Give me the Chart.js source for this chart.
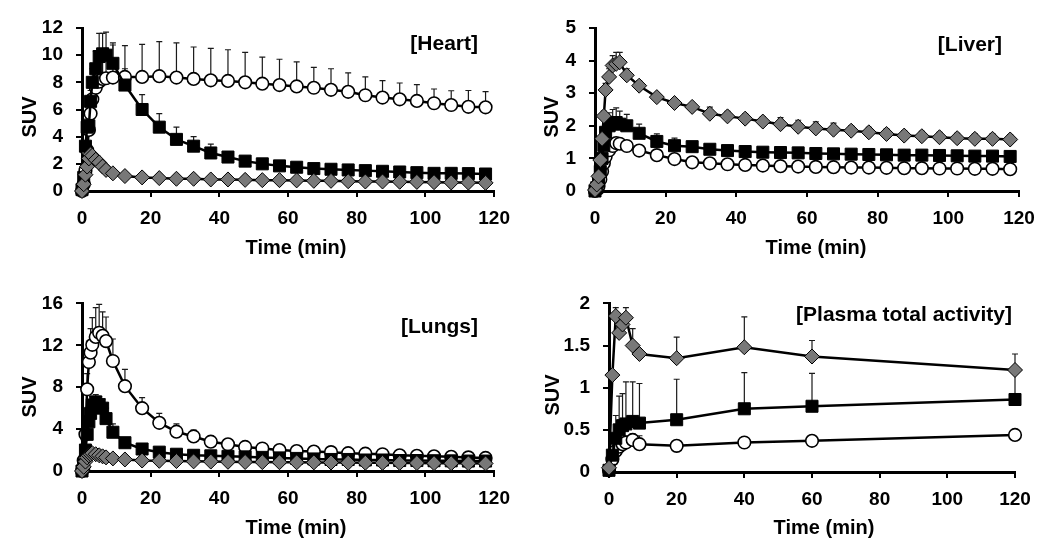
<!DOCTYPE html>
<html><head><meta charset="utf-8">
<script src="https://cdn.jsdelivr.net/npm/chart.js@4.4.1/dist/chart.umd.min.js"></script>
<style>
html,body{margin:0;padding:0;background:#fff;width:1050px;height:558px;overflow:hidden}
.p{position:absolute}
canvas{display:block}
</style></head><body>
<div class="p" style="left:0;top:0;width:520px;height:279px"><canvas id="heart" width="520" height="279"></canvas></div>
<div class="p" style="left:520px;top:0;width:530px;height:279px"><canvas id="liver" width="530" height="279"></canvas></div>
<div class="p" style="left:0;top:279px;width:520px;height:279px"><canvas id="lungs" width="520" height="279"></canvas></div>
<div class="p" style="left:520px;top:279px;width:530px;height:279px"><canvas id="plasma" width="530" height="279"></canvas></div>
<script>
// ---------- DATA ----------
const xTitle = 'Time (min)';
const yTitle = 'SUV';
const panelTitles = ['[Heart]', '[Liver]', '[Lungs]', '[Plasma total activity]'];

const tissueTimes = [0, 0.5, 1, 1.5, 2, 2.5, 3, 4, 5, 6, 7, 9, 12.5, 17.5, 22.5, 27.5, 32.5, 37.5, 42.5, 47.5, 52.5, 57.5, 62.5, 67.5, 72.5, 77.5, 82.5, 87.5, 92.5, 97.5, 102.5, 107.5, 112.5, 117.5];

const heartSquare = [0.1, 1.0, 3.3, 4.7, 4.8, 6.6, 8.0, 9.0, 9.9, 10.1, 10.0, 9.4, 7.8, 6.0, 4.7, 3.8, 3.3, 2.8, 2.5, 2.2, 2.0, 1.85, 1.75, 1.65, 1.6, 1.55, 1.5, 1.45, 1.4, 1.35, 1.3, 1.3, 1.28, 1.25];
const heartSquareErr = [0, 0.2, 0.4, 0.6, 0.7, 0.8, 1.0, 1.3, 1.7, 1.5, 1.7, 1.5, 1.2, 1.1, 1.0, 0.9, 0.7, 0.65, 0.4, 0.3, 0.25, 0.25, 0.2, 0.2, 0.2, 0.2, 0.2, 0.2, 0.2, 0.2, 0.2, 0.2, 0.2, 0.2];
const heartCircle = [0, 0.5, 1.5, 3.0, 4.5, 5.7, 6.75, 7.6, 8.05, 8.25, 8.3, 8.35, 8.4, 8.4, 8.45, 8.35, 8.25, 8.15, 8.1, 8.0, 7.9, 7.8, 7.7, 7.6, 7.45, 7.3, 7.05, 6.88, 6.75, 6.63, 6.46, 6.33, 6.2, 6.16];
const heartCircleErr = [0, 0.2, 0.4, 0.6, 0.8, 1.0, 1.2, 1.3, 1.5, 2.0, 2.2, 2.4, 2.3, 2.4, 2.55, 2.55, 2.35, 2.35, 2.3, 2.2, 1.96, 1.9, 1.8, 1.5, 1.55, 1.4, 1.35, 1.25, 1.2, 1.2, 1.05, 1.05, 1.2, 1.15];
const heartDiamond = [0, 0.5, 1.2, 1.8, 2.4, 2.7, 2.6, 2.3, 2.1, 1.8, 1.55, 1.3, 1.1, 1.0, 0.95, 0.9, 0.9, 0.85, 0.85, 0.82, 0.8, 0.8, 0.78, 0.75, 0.75, 0.72, 0.7, 0.7, 0.68, 0.67, 0.65, 0.63, 0.62, 0.6];
const heartDiamondErr = [0, 0, 0.05, 0.1, 0.1, 0.15, 0.15, 0.15, 0.1, 0.1, 0.1, 0.1, 0.05, 0.05, 0.05, 0.05, 0.05, 0.05, 0.05, 0.05, 0.05, 0.05, 0.05, 0.05, 0.05, 0.05, 0.05, 0.05, 0.05, 0.05, 0.05, 0.05, 0.05, 0.05];

const liverSquare = [0, 0.1, 0.3, 0.6, 1.0, 1.4, 1.8, 2.0, 2.1, 2.1, 2.05, 2.0, 1.77, 1.52, 1.39, 1.36, 1.28, 1.24, 1.21, 1.19, 1.18, 1.17, 1.15, 1.14, 1.13, 1.12, 1.11, 1.1, 1.1, 1.09, 1.08, 1.07, 1.07, 1.06];
const liverSquareErr = [0, 0, 0.1, 0.1, 0.2, 0.2, 0.3, 0.4, 0.4, 0.45, 0.4, 0.35, 0.28, 0.23, 0.23, 0.1, 0.1, 0.1, 0.08, 0.08, 0.08, 0.08, 0.08, 0.08, 0.08, 0.08, 0.08, 0.08, 0.08, 0.08, 0.08, 0.08, 0.08, 0.08];
const liverCircle = [0, 0.05, 0.15, 0.35, 0.6, 0.85, 1.05, 1.25, 1.38, 1.47, 1.45, 1.38, 1.24, 1.1, 0.98, 0.88, 0.85, 0.82, 0.8, 0.78, 0.76, 0.75, 0.74, 0.73, 0.72, 0.72, 0.71, 0.7, 0.7, 0.69, 0.69, 0.68, 0.68, 0.67];
const liverCircleErr = [0, 0, 0.05, 0.05, 0.1, 0.1, 0.15, 0.15, 0.15, 0.15, 0.15, 0.1, 0.05, 0.05, 0.05, 0.05, 0.05, 0.05, 0.05, 0.05, 0.05, 0.05, 0.05, 0.05, 0.05, 0.05, 0.05, 0.05, 0.05, 0.05, 0.05, 0.05, 0.05, 0.05];
const liverDiamond = [0.03, 0.2, 0.45, 0.95, 1.6, 2.3, 3.1, 3.5, 3.85, 3.9, 3.95, 3.55, 3.23, 2.88, 2.7, 2.58, 2.37, 2.29, 2.22, 2.13, 2.05, 1.97, 1.92, 1.88, 1.85, 1.8, 1.75, 1.7, 1.68, 1.65, 1.62, 1.6, 1.6, 1.58];
const liverDiamondErr = [0, 0, 0.05, 0.1, 0.1, 0.15, 0.2, 0.25, 0.3, 0.35, 0.3, 0.2, 0.15, 0.1, 0.1, 0.1, 0.2, 0.15, 0.15, 0.15, 0.2, 0.2, 0.2, 0.2, 0.15, 0.15, 0.15, 0.15, 0.15, 0.15, 0.15, 0.15, 0.15, 0.15];

const lungsSquare = [0, 0.6, 2.0, 3.5, 4.7, 5.5, 6.3, 6.6, 6.3, 6.0, 5.0, 3.7, 2.7, 2.1, 1.8, 1.6, 1.5, 1.45, 1.4, 1.35, 1.3, 1.25, 1.2, 1.15, 1.1, 1.1, 1.05, 1.05, 1.0, 1.0, 0.98, 0.97, 0.95, 0.95];
const lungsSquareErr = [0, 0.1, 0.3, 0.5, 0.6, 0.7, 0.8, 0.7, 0.8, 0.9, 1.0, 0.8, 0.5, 0.3, 0.2, 0.15, 0.1, 0.1, 0.1, 0.1, 0.1, 0.1, 0.1, 0.1, 0.1, 0.1, 0.1, 0.1, 0.1, 0.1, 0.1, 0.1, 0.1, 0.1];
const lungsCircle = [0, 1.0, 3.5, 7.8, 10.4, 11.3, 12.05, 12.8, 13.2, 12.9, 12.4, 10.5, 8.1, 6.0, 4.6, 3.75, 3.3, 2.8, 2.55, 2.3, 2.15, 2.0, 1.9, 1.85, 1.8, 1.7, 1.65, 1.6, 1.5, 1.45, 1.4, 1.35, 1.3, 1.25];
const lungsCircleErr = [0, 0.3, 0.8, 1.5, 2.0, 2.3, 2.6, 2.8, 2.7, 2.3, 2.3, 2.1, 1.6, 1.0, 0.9, 0.75, 0.6, 0.5, 0.4, 0.3, 0.3, 0.3, 0.25, 0.25, 0.25, 0.2, 0.2, 0.2, 0.2, 0.2, 0.2, 0.2, 0.2, 0.2];
const lungsDiamond = [0, 0.4, 0.9, 1.3, 1.5, 1.6, 1.7, 1.6, 1.5, 1.4, 1.3, 1.2, 1.1, 1.0, 0.97, 0.95, 0.92, 0.9, 0.88, 0.86, 0.85, 0.84, 0.83, 0.82, 0.81, 0.8, 0.79, 0.78, 0.77, 0.76, 0.75, 0.74, 0.73, 0.72];
const lungsDiamondErr = [0, 0.05, 0.1, 0.15, 0.2, 0.2, 0.2, 0.2, 0.15, 0.15, 0.1, 0.1, 0.1, 0.05, 0.05, 0.05, 0.05, 0.05, 0.05, 0.05, 0.05, 0.05, 0.05, 0.05, 0.05, 0.05, 0.05, 0.05, 0.05, 0.05, 0.05, 0.05, 0.05, 0.05];

const plasmaTimes = [0, 1, 2, 3, 4, 5, 7, 9, 20, 40, 60, 120];
const plasmaDiamond = [0.05, 1.15, 1.85, 1.65, 1.75, 1.83, 1.5, 1.4, 1.35, 1.48, 1.37, 1.21];
const plasmaDiamondErr = [0, 0, 0.1, 0, 0, 0.12, 0.2, 0, 0.25, 0.36, 0.19, 0.19];
const plasmaSquare = [0.02, 0.2, 0.4, 0.5, 0.55, 0.57, 0.6, 0.58, 0.62, 0.75, 0.78, 0.86];
const plasmaSquareErr = [0, 0.1, 0.27, 0.4, 0.38, 0.5, 0.47, 0.47, 0.48, 0.43, 0.39, 0.34];
const plasmaCircle = [0.02, 0.15, 0.25, 0.3, 0.33, 0.35, 0.38, 0.33, 0.31, 0.35, 0.37, 0.44];
const plasmaCircleErr = [0, 0, 0.05, 0.05, 0.05, 0.08, 0.07, 0.1, 0, 0, 0, 0.03];

const xTicks = [0, 20, 40, 60, 80, 100, 120];
const heartYTicks = [0, 2, 4, 6, 8, 10, 12];
const liverYTicks = [0, 1, 2, 3, 4, 5];
const lungsYTicks = [0, 4, 8, 12, 16];
const plasmaYTicks = [0, 0.5, 1, 1.5, 2];

// ---------- RENDERING ----------
const FONT = '"Liberation Sans", Arial, Helvetica, sans-serif';

const errorBars = {
  id: 'errorBars',
  beforeDatasetsDraw(chart) {
    const {ctx} = chart; const xs = chart.scales.x, ys = chart.scales.y;
    ctx.save();
    ctx.strokeStyle = '#1a1a1a'; ctx.lineWidth = 1.2;
    chart.data.datasets.forEach(ds => {
      if (!ds.errors) return;
      ds.data.forEach((p, i) => {
        const e = ds.errors[i]; if (!e) return;
        const px = xs.getPixelForValue(p.x), py = ys.getPixelForValue(p.y), pt = ys.getPixelForValue(p.y + e);
        ctx.beginPath();
        ctx.moveTo(px, py); ctx.lineTo(px, pt);
        ctx.moveTo(px - 3, pt); ctx.lineTo(px + 3, pt);
        ctx.stroke();
      });
    });
    ctx.restore();
  }
};

const panelText = {
  id: 'panelText',
  afterDraw(chart, args, o) {
    const ctx = chart.ctx;
    ctx.save();
    ctx.fillStyle = '#000';
    ctx.textBaseline = 'middle';
    ctx.font = 'bold 21px ' + FONT;
    ctx.textAlign = 'right';
    ctx.fillText(o.title, o.titleX, o.titleY);
    ctx.font = 'bold 20px ' + FONT;
    ctx.textAlign = 'center';
    ctx.fillText(xTitle, o.timeX, o.timeY);
    ctx.translate(o.suvX, o.suvY);
    ctx.rotate(-Math.PI / 2);
    ctx.fillText(yTitle, 0, 0);
    ctx.restore();
  }
};

function pts(t, v) { return t.map((x, i) => ({x: x, y: v[i]})); }

function makePanel(id, cfg) {
  const common = {showLine: true, borderColor: '#000', borderWidth: 2.5, clip: false, pointBorderColor: '#000'};
  const datasets = [
    Object.assign({}, common, {data: pts(cfg.t, cfg.diamond), errors: cfg.diamondErr, pointStyle: 'rectRot', pointRadius: 7.5, pointBackgroundColor: '#787878', pointBorderWidth: 1}),
    Object.assign({}, common, {data: pts(cfg.t, cfg.square), errors: cfg.squareErr, pointStyle: 'rect', pointRadius: 8.5, pointBackgroundColor: '#000', pointBorderWidth: 1}),
    Object.assign({}, common, {data: pts(cfg.t, cfg.circle), errors: cfg.circleErr, pointStyle: 'circle', pointRadius: 6.3, pointBackgroundColor: '#fff', pointBorderWidth: 1.6})
  ];
  const tickFont = {family: FONT, size: 19, weight: 'bold'};
  new Chart(document.getElementById(id), {
    type: 'line',
    data: {datasets},
    plugins: [errorBars, panelText],
    options: {
      responsive: false, animation: false, devicePixelRatio: 1,
      layout: {padding: {left: 0, right: cfg.padR, top: cfg.padT, bottom: 0}},
      elements: {line: {tension: 0}},
      plugins: {
        legend: {display: false}, tooltip: {enabled: false},
        panelText: cfg.text
      },
      scales: {
        x: {
          type: 'linear', min: 0, max: 120,
          afterBuildTicks: s => { s.ticks = xTicks.map(v => ({value: v})); },
          afterFit: s => { s.height = cfg.xH; },
          ticks: {font: tickFont, color: '#000', padding: 10, maxRotation: 0, autoSkip: false, callback: v => String(v)},
          grid: {display: true, drawOnChartArea: false, drawTicks: true, tickLength: 6, color: '#000', lineWidth: 2},
          border: {display: true, color: '#000', width: 3}
        },
        y: {
          type: 'linear', min: cfg.yTicks[0], max: cfg.yTicks[cfg.yTicks.length - 1],
          afterBuildTicks: s => { s.ticks = cfg.yTicks.map(v => ({value: v})); },
          afterFit: s => { s.width = cfg.yW; },
          ticks: {font: tickFont, color: '#000', padding: 13, autoSkip: false, callback: v => String(v)},
          grid: {display: true, drawOnChartArea: false, drawTicks: true, tickLength: 6, color: '#000', lineWidth: 2},
          border: {display: true, color: '#000', width: 3}
        }
      }
    }
  });
}

makePanel('heart', {
  t: tissueTimes, square: heartSquare, squareErr: heartSquareErr, circle: heartCircle, circleErr: heartCircleErr, diamond: heartDiamond, diamondErr: heartDiamondErr,
  yTicks: heartYTicks, yW: 82, xH: 88, padR: 24, padT: 28,
  text: {title: panelTitles[0], titleX: 478, titleY: 44, timeX: 296, timeY: 248, suvX: 30, suvY: 117}
});
makePanel('liver', {
  t: tissueTimes, square: liverSquare, squareErr: liverSquareErr, circle: liverCircle, circleErr: liverCircleErr, diamond: liverDiamond, diamondErr: liverDiamondErr,
  yTicks: liverYTicks, yW: 75, xH: 88, padR: 31, padT: 28,
  text: {title: panelTitles[1], titleX: 482, titleY: 45, timeX: 296, timeY: 248, suvX: 32, suvY: 117}
});
makePanel('lungs', {
  t: tissueTimes, square: lungsSquare, squareErr: lungsSquareErr, circle: lungsCircle, circleErr: lungsCircleErr, diamond: lungsDiamond, diamondErr: lungsDiamondErr,
  yTicks: lungsYTicks, yW: 82, xH: 87, padR: 24, padT: 24,
  text: {title: panelTitles[2], titleX: 478, titleY: 48, timeX: 296, timeY: 249, suvX: 30, suvY: 118}
});
makePanel('plasma', {
  t: plasmaTimes, square: plasmaSquare, squareErr: plasmaSquareErr, circle: plasmaCircle, circleErr: plasmaCircleErr, diamond: plasmaDiamond, diamondErr: plasmaDiamondErr,
  yTicks: plasmaYTicks, yW: 89, xH: 86, padR: 35, padT: 24,
  text: {title: panelTitles[3], titleX: 492, titleY: 36, timeX: 304, timeY: 249, suvX: 33, suvY: 116}
});
</script>
</body></html>
